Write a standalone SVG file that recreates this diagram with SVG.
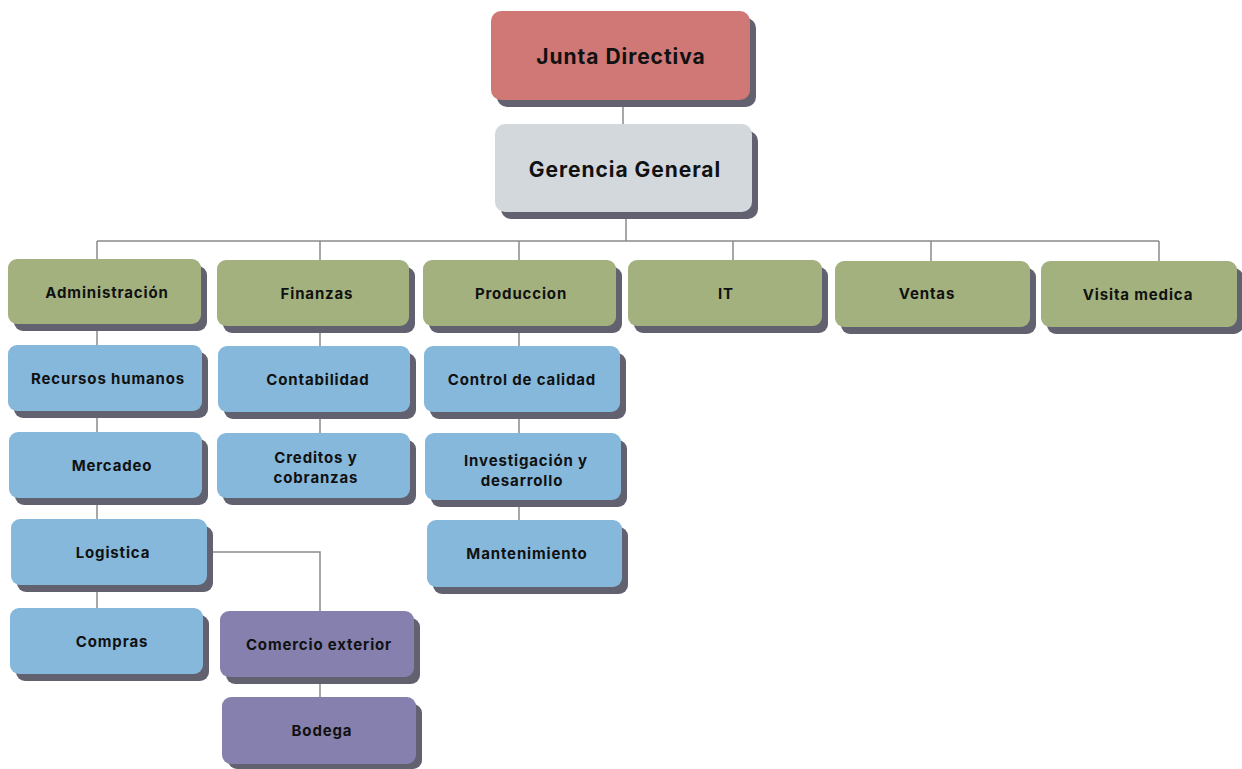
<svg xmlns="http://www.w3.org/2000/svg" width="1242" height="769" viewBox="0 0 1242 769">
<defs>
<style>
.sh{fill:#62616f}
.red{fill:#cf7875}
.gray{fill:#d3d8dc}
.olive{fill:#a3b17f}
.blue{fill:#85b8db}
.purple{fill:#8580ad}
text{font-family:Inter,"Liberation Sans",sans-serif;font-weight:700;fill:#111;text-anchor:middle;dominant-baseline:central}
.big{font-size:21px;letter-spacing:0.95px}
.sm{font-size:15px;letter-spacing:0.85px}
.conn{stroke:#8a8a8a;stroke-width:1.5;fill:none}
</style>
</defs>
<rect width="1242" height="769" fill="#fff"/>
<g id="connectors">
<path class="conn" d="M623 100V124"/>
<path class="conn" d="M626 212V241"/>
<path class="conn" d="M97 241H1159"/>
<path class="conn" d="M97 241V259M320 241V260M519 241V260M733 241V260M931 241V261M1159 241V261"/>
<path class="conn" d="M97 324V608"/>
<path class="conn" d="M320 326V433"/>
<path class="conn" d="M519 326V520"/>
<path class="conn" d="M207 552H320V611"/>
<path class="conn" d="M320 677V697"/>
</g>
<g id="junta"><rect class="sh" x="497" y="18" width="259" height="89" rx="10"/><rect class="red" x="491" y="11" width="259" height="89" rx="10"/><text class="big" x="621" y="56">Junta Directiva</text></g>
<g id="gerencia"><rect class="sh" x="501" y="131" width="257" height="88" rx="10"/><rect class="gray" x="495" y="124" width="257" height="88" rx="10"/><text class="big" x="625" y="169">Gerencia General</text></g>
<g id="administracion"><rect class="sh" x="14" y="266" width="193" height="65" rx="9"/><rect class="olive" x="8" y="259" width="193" height="65" rx="9"/><text class="sm" x="107" y="292">Administración</text></g>
<g id="finanzas"><rect class="sh" x="223" y="267" width="192" height="66" rx="9"/><rect class="olive" x="217" y="260" width="192" height="66" rx="9"/><text class="sm" x="317" y="293">Finanzas</text></g>
<g id="produccion"><rect class="sh" x="429" y="267" width="193" height="66" rx="9"/><rect class="olive" x="423" y="260" width="193" height="66" rx="9"/><text class="sm" x="521" y="293">Produccion</text></g>
<g id="it"><rect class="sh" x="634" y="267" width="194" height="66" rx="9"/><rect class="olive" x="628" y="260" width="194" height="66" rx="9"/><text class="sm" x="726" y="293">IT</text></g>
<g id="ventas"><rect class="sh" x="841" y="268" width="195" height="66" rx="9"/><rect class="olive" x="835" y="261" width="195" height="66" rx="9"/><text class="sm" x="927" y="293">Ventas</text></g>
<g id="visita"><rect class="sh" x="1047" y="268" width="196" height="66" rx="9"/><rect class="olive" x="1041" y="261" width="196" height="66" rx="9"/><text class="sm" x="1138" y="294">Visita medica</text></g>
<g id="rrhh"><rect class="sh" x="14" y="352" width="194" height="66" rx="9"/><rect class="blue" x="8" y="345" width="194" height="66" rx="9"/><text class="sm" x="108" y="378">Recursos humanos</text></g>
<g id="mercadeo"><rect class="sh" x="15" y="439" width="193" height="66" rx="9"/><rect class="blue" x="9" y="432" width="193" height="66" rx="9"/><text class="sm" x="112" y="465">Mercadeo</text></g>
<g id="logistica"><rect class="sh" x="17" y="526" width="196" height="66" rx="9"/><rect class="blue" x="11" y="519" width="196" height="66" rx="9"/><text class="sm" x="113" y="552">Logistica</text></g>
<g id="compras"><rect class="sh" x="16" y="615" width="193" height="66" rx="9"/><rect class="blue" x="10" y="608" width="193" height="66" rx="9"/><text class="sm" x="112" y="641">Compras</text></g>
<g id="contabilidad"><rect class="sh" x="224" y="353" width="192" height="66" rx="9"/><rect class="blue" x="218" y="346" width="192" height="66" rx="9"/><text class="sm" x="318" y="379">Contabilidad</text></g>
<g id="creditos"><rect class="sh" x="223" y="440" width="193" height="65" rx="9"/><rect class="blue" x="217" y="433" width="193" height="65" rx="9"/><text class="sm" x="316" y="457">Creditos y</text><text class="sm" x="316" y="477">cobranzas</text></g>
<g id="calidad"><rect class="sh" x="430" y="353" width="196" height="66" rx="9"/><rect class="blue" x="424" y="346" width="196" height="66" rx="9"/><text class="sm" x="522" y="379">Control de calidad</text></g>
<g id="investigacion"><rect class="sh" x="431" y="440" width="196" height="67" rx="9"/><rect class="blue" x="425" y="433" width="196" height="67" rx="9"/><text class="sm" x="526" y="460">Investigación y</text><text class="sm" x="522" y="480">desarrollo</text></g>
<g id="mantenimiento"><rect class="sh" x="433" y="527" width="195" height="67" rx="9"/><rect class="blue" x="427" y="520" width="195" height="67" rx="9"/><text class="sm" x="527" y="553">Mantenimiento</text></g>
<g id="comercio"><rect class="sh" x="226" y="618" width="194" height="66" rx="9"/><rect class="purple" x="220" y="611" width="194" height="66" rx="9"/><text class="sm" x="319" y="644">Comercio exterior</text></g>
<g id="bodega"><rect class="sh" x="228" y="704" width="194" height="65" rx="9"/><rect class="purple" x="222" y="697" width="194" height="67" rx="9"/><text class="sm" x="322" y="730">Bodega</text></g>
</svg>
